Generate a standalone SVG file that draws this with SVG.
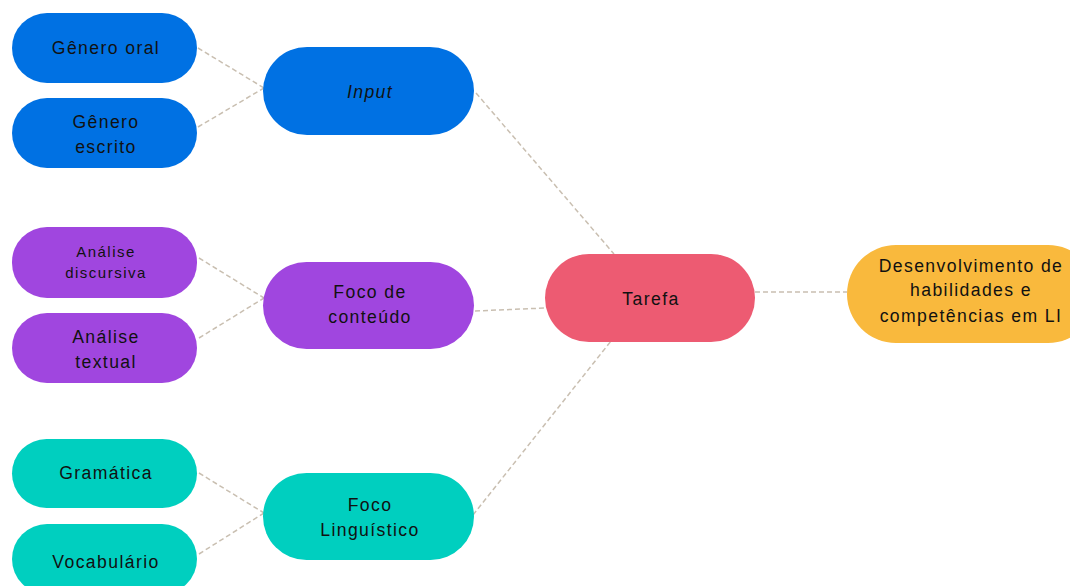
<svg xmlns="http://www.w3.org/2000/svg" width="1070" height="586" viewBox="0 0 1070 586">
<style>
text{font-family:"Liberation Sans",Arial,sans-serif;font-size:17.6px;letter-spacing:1.4px;fill:#111;text-anchor:middle}
.sm{font-size:15px;letter-spacing:1.5px}
.it{font-style:italic}
.c{fill:none;stroke:#c9bfb1;stroke-width:1.5;stroke-dasharray:5 3}
.blue{fill:#0071e3}.purple{fill:#a046df}.teal{fill:#00cfbf}.pink{fill:#ed5b72}.orange{fill:#f9b93d}
</style>
<rect width="1070" height="586" fill="#fff"/>
<g id="connectors">
<line class="c" x1="198" y1="48" x2="264" y2="88"/>
<line class="c" x1="198" y1="127" x2="264" y2="88"/>
<line class="c" x1="199" y1="258" x2="264" y2="298"/>
<line class="c" x1="199" y1="338" x2="264" y2="298"/>
<line class="c" x1="199" y1="473" x2="264" y2="513"/>
<line class="c" x1="199" y1="554" x2="264" y2="513"/>
<line class="c" x1="476" y1="93" x2="614" y2="254"/>
<line class="c" x1="475" y1="311" x2="545" y2="308"/>
<line class="c" x1="473" y1="515" x2="615" y2="336"/>
<line class="c" x1="755" y1="292" x2="847" y2="292"/>
</g>
<g id="genero-oral"><rect class="blue" x="12" y="13" width="185" height="70" rx="35"/><text x="106" y="54">Gênero oral</text></g>
<g id="genero-escrito"><rect class="blue" x="12" y="98" width="185" height="70" rx="35"/><text x="106" y="128">Gênero</text><text x="106" y="153">escrito</text></g>
<g id="input"><rect class="blue" x="263" y="47" width="211" height="88" rx="44"/><text class="it" x="370" y="98">Input</text></g>
<g id="analise-discursiva"><rect class="purple" x="12" y="227" width="185" height="71" rx="35"/><text class="sm" x="106" y="257">Análise</text><text class="sm" x="106" y="278">discursiva</text></g>
<g id="analise-textual"><rect class="purple" x="12" y="313" width="185" height="70" rx="35"/><text x="106" y="343">Análise</text><text x="106" y="368">textual</text></g>
<g id="foco-conteudo"><rect class="purple" x="263" y="262" width="211" height="87" rx="43.5"/><text x="370" y="298">Foco de</text><text x="370" y="323">conteúdo</text></g>
<g id="gramatica"><rect class="teal" x="12" y="439" width="185" height="69" rx="34.5"/><text x="106" y="479">Gramática</text></g>
<g id="vocabulario"><rect class="teal" x="12" y="524" width="185" height="70" rx="35"/><text x="106" y="568">Vocabulário</text></g>
<g id="foco-linguistico"><rect class="teal" x="263" y="473" width="211" height="87" rx="43.5"/><text x="370" y="511">Foco</text><text x="370" y="536">Linguístico</text></g>
<g id="tarefa"><rect class="pink" x="545" y="254" width="210" height="88" rx="44"/><text x="651" y="305">Tarefa</text></g>
<g id="desenvolvimento"><rect class="orange" x="847" y="245" width="250" height="98" rx="49"/><text x="971" y="272">Desenvolvimento de</text><text x="971" y="296">habilidades e</text><text x="971" y="322">competências em LI</text></g>
</svg>
